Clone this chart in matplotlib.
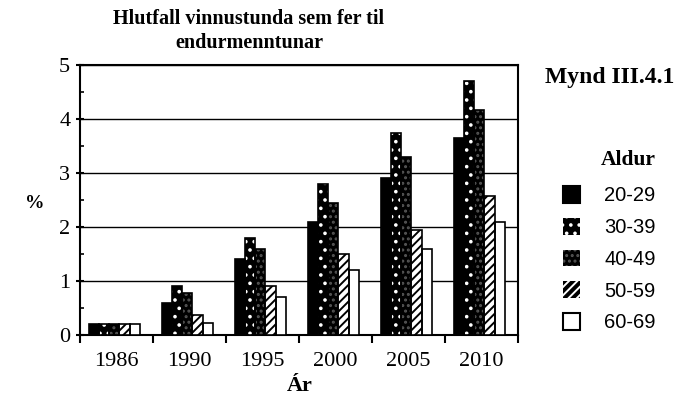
import numpy as np
import matplotlib
matplotlib.use("Agg")
import matplotlib.pyplot as plt
from matplotlib.patches import Patch

# Gögn lesin af myndinni
years = ["1986", "1990", "1995", "2000", "2005", "2010"]
age_groups = ["20-29", "30-39", "40-49", "50-59", "60-69"]
v_20_29 = [0.2, 0.6, 1.4, 2.1, 2.9, 3.64]
v_30_39 = [0.2, 0.9, 1.8, 2.8, 3.75, 4.7]
v_40_49 = [0.2, 0.77, 1.6, 2.45, 3.3, 4.17]
v_50_59 = [0.2, 0.37, 0.9, 1.5, 1.95, 2.58]
v_60_69 = [0.2, 0.22, 0.7, 1.2, 1.6, 2.1]
series = [v_20_29, v_30_39, v_40_49, v_50_59, v_60_69]

# útlit hvers hóps: (fylling, litur mynsturs, mynstur)
styles = [
    ("black", "black", None),
    ("black", "white", ".."),
    ("black", "#555555", "..."),
    ("white", "black", "////"),
    ("white", "black", None),
]

plt.rcParams["hatch.linewidth"] = 1.4
serif = "Liberation Serif"
sans = "Liberation Sans"

fig = plt.figure(figsize=(6.9, 4.01), dpi=100)
ax = fig.add_axes([80 / 690, 1 - 335 / 401, 438 / 690, 270 / 401])

x = np.arange(len(years))
w = 0.14
for i, (vals, (fc, hc, hatch)) in enumerate(zip(series, styles)):
    pos = x + (i - 2) * w - 0.03
    ax.bar(pos, vals, width=w, color=fc, edgecolor=hc, hatch=hatch,
           linewidth=0, zorder=3)
    ax.bar(pos, vals, width=w, facecolor="none", edgecolor="black",
           linewidth=1.2, zorder=4)

ax.set_xlim(-0.5, len(years) - 0.5)
ax.set_ylim(0, 5)
ax.set_yticks(range(0, 6))
ax.set_yticks(np.arange(0.5, 5, 1), minor=True)
ax.set_xticks(x)
ax.set_xticklabels(years, fontfamily=serif, fontsize=16)
ax.set_xticks(np.arange(-0.5, len(years), 1), minor=True)
ax.tick_params(axis="x", which="major", length=0, pad=12)
ax.tick_params(axis="x", which="minor", length=6, width=1.5, direction="out")
ax.tick_params(axis="y", which="major", length=6, width=1.5, direction="inout",
               labelsize=16, pad=4)
ax.tick_params(axis="y", which="minor", length=3, width=1.2, direction="in")
for lab in ax.get_yticklabels():
    lab.set_fontfamily(serif)

ax.grid(axis="y", color="black", linewidth=1.0, zorder=1)
for s in ax.spines.values():
    s.set_linewidth(1.5)

fig.text(249 / 690, 1 - 31 / 401, "Hlutfall vinnustunda sem fer til\nendurmenntunar",
         ha="center", va="center", fontfamily=serif, fontweight="bold",
         fontsize=14.5, linespacing=1.3)
fig.text(35 / 690, 1 - 203 / 401, "%", ha="center", va="center",
         fontfamily=serif, fontweight="bold", fontsize=14)
fig.text(300 / 690, 1 - 386 / 401, "Ár", ha="center", va="center",
         fontfamily=serif, fontweight="bold", fontsize=16)
fig.text(610 / 690, 1 - 78 / 401, "Mynd III.4.1", ha="center", va="center",
         fontfamily=serif, fontweight="bold", fontsize=17)
fig.text(628 / 690, 1 - 160 / 401, "Aldur", ha="center", va="center",
         fontfamily=serif, fontweight="bold", fontsize=15.5)

handles = []
for (fc, hc, hatch) in styles:
    if hatch is None:
        handles.append(Patch(facecolor=fc, edgecolor="black", linewidth=1.5))
    else:
        face = "black" if fc == "white" else fc
        hcol = "white" if fc == "white" else hc
        handles.append(Patch(facecolor=face, edgecolor=hcol, hatch=hatch,
                             linewidth=0))
fig.legend(handles, age_groups, loc="upper left",
           bbox_to_anchor=(563 / 690, 1 - 186 / 401), frameon=False,
           prop={"family": sans, "size": 14.5}, borderpad=0, borderaxespad=0,
           handlelength=0.85, handleheight=0.9, handletextpad=1.2,
           labelspacing=0.62)

fig.savefig("out.png", dpi=100)
